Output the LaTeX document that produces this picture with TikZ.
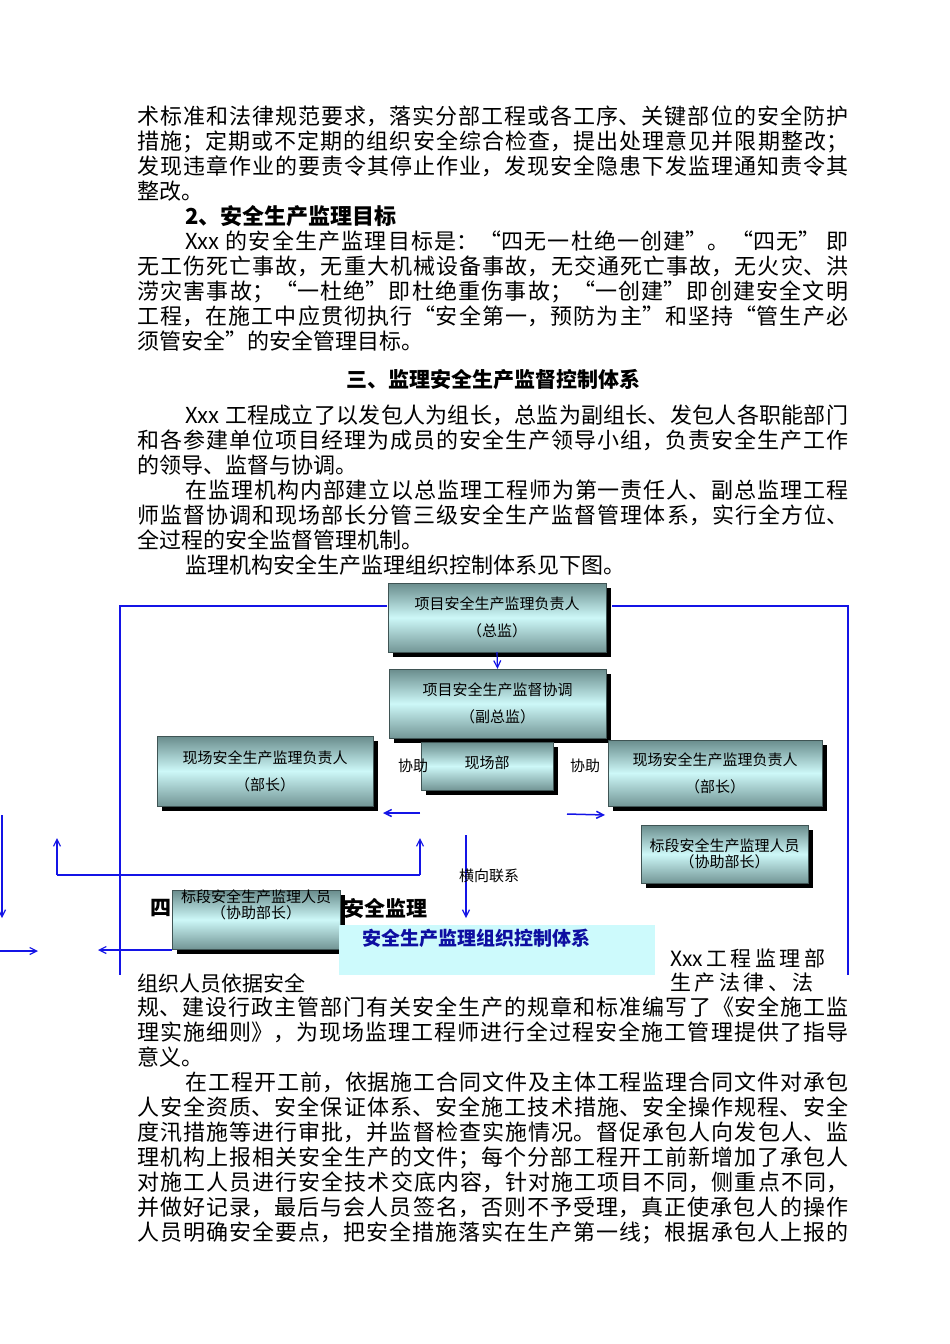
\documentclass[tikz,border=0pt]{standalone}
\usepackage{fontspec}
\setmainfont{Noto Sans CJK SC}
\usetikzlibrary{shadows,arrows.meta}
\XeTeXlinebreaklocale "zh"
\XeTeXlinebreakskip=0pt plus 3pt
\definecolor{lineblue}{RGB}{20,20,230}
\definecolor{boxtop}{RGB}{105,140,140}
\definecolor{boxmid}{RGB}{205,248,248}
\definecolor{boxbot}{RGB}{115,150,150}
\definecolor{capbg}{RGB}{205,250,252}
\tikzset{
  orgbox/.style={shade,top color=boxtop,bottom color=boxbot,middle color=boxmid,
    draw=boxtop!60!black,line width=0.3pt,
    drop shadow={shadow xshift=5pt,shadow yshift=-5pt,fill=black,opacity=1},
    align=center,font=\fontsize{15}{27}\selectfont,inner sep=0pt},
  bl/.style={draw=lineblue,line width=2pt},
  blarr/.style={draw=lineblue,line width=1.5pt,-{Straight Barb[length=7pt,width=7pt]}},
  para/.style={anchor=north west,inner sep=0pt,text width=711pt,align=justify,
    font=\fontsize{22}{25}\selectfont},
  lbl/.style={font=\fontsize{15}{16}\selectfont,inner sep=0pt}
}
\begin{document}
\begin{tikzpicture}[x=1pt,y=-1pt]
\useasboundingbox[fill=white] (0,0) rectangle (950,1344);
\node[para] (pa) at (137,106) {\parindent0pt
术标准和法律规范要求，落实分部工程或各工序、关键部位的安全防护\linebreak
措施；定期或不定期的组织安全综合检查，提出处理意见并限期整改；\linebreak
发现违章作业的要责令其停止作业，发现安全隐患下发监理通知责令其\linebreak
整改。\\
\hspace*{2.2em}\textbf{2、安全生产监理目标}\\
\hspace*{2.2em}Xxx 的安全生产监理目标是：“四无一杜绝一创建”。“四无” 即\linebreak
无工伤死亡事故，无重大机械设备事故，无交通死亡事故，无火灾、洪\linebreak
涝灾害事故；“一杜绝”即杜绝重伤事故；“一创建”即创建安全文明\linebreak
工程，在施工中应贯彻执行“安全第一，预防为主”和坚持“管生产必\linebreak
须管安全”的安全管理目标。\\};
\node[font=\fontsize{21}{25}\selectfont\bfseries] (h3) at (493,380) {三、监理安全生产监督控制体系};
\node[para] (pb) at (137,405) {\parindent0pt
\hspace*{2.2em}Xxx 工程成立了以发包人为组长，总监为副组长、发包人各职能部门\linebreak
和各参建单位项目经理为成员的安全生产领导小组，负责安全生产工作\linebreak
的领导、监督与协调。\\
\hspace*{2.2em}在监理机构内部建立以总监理工程师为第一责任人、副总监理工程\linebreak
师监督协调和现场部长分管三级安全生产监督管理体系，实行全方位、\linebreak
全过程的安全监督管理机制。\\
\hspace*{2.2em}监理机构安全生产监理组织控制体系见下图。\\};
% diagram lines
\draw[bl] (387,606) -- (120,606) -- (120,975);
\draw[bl] (612,606) -- (848,606) -- (848,975);
\draw[bl] (57,875) -- (420,875);
\coordinate (u1) at (57,838); \coordinate (u2) at (420,838);
\draw[blarr,line width=1.2pt] (57,875) -- (u1);
\draw[blarr,line width=1.2pt] (420,875) -- (u2);
\coordinate (d0a) at (2,815); \coordinate (d0b) at (2,918);
\draw[blarr,line width=1.2pt] (d0a) -- (d0b);
\coordinate (hx1) at (466,835); \coordinate (hx2) at (466,918);
\draw[blarr,line width=1.2pt] (hx1) -- (hx2);
\node[lbl,anchor=west] (hx) at (459,876) {横向联系};
% boxes
\node[orgbox,minimum width=218pt,minimum height=69pt] (b1) at (497,617.5) {项目安全生产监理负责人\\（总监）};
\node[orgbox,minimum width=217pt,minimum height=69pt] (b2) at (497.5,703.5) {项目安全生产监督协调\\（副总监）};
\node[orgbox,minimum width=132pt,minimum height=48pt] (b3) at (487,766) {};
\node[lbl] at (487,763) {现场部};
\node[orgbox,minimum width=216pt,minimum height=70pt] (b4) at (265,771) {现场安全生产监理负责人\\（部长）};
\node[orgbox,minimum width=214pt,minimum height=66pt] (b5) at (715,773) {现场安全生产监理负责人\\（部长）};
\node[orgbox,minimum width=167pt,minimum height=58pt,font=\fontsize{15}{16}\selectfont] (b6) at (724.5,854) {标段安全生产监理人员\\（协助部长）};
\draw[blarr,line width=1.2pt] (b1.south) -- (b2.north);
\coordinate (la) at (383,813); \coordinate (lb) at (420,813);
\draw[blarr] (lb) -- (la);
\coordinate (ra) at (567,814); \coordinate (rb) at (605,815);
\draw[blarr] (ra) -- (rb);
\node[lbl] (x1) at (413,766) {协助};
\node[lbl] (x2) at (585,766) {协助};
% bottom area
\node[font=\fontsize{21}{25}\selectfont\bfseries,anchor=west,inner sep=0pt] (si) at (150,908) {四};
\node[font=\fontsize{21}{25}\selectfont\bfseries,anchor=west,inner sep=0pt] (aq) at (343,908) {安全监理};
\node[orgbox,minimum width=168pt,minimum height=58pt,font=\fontsize{15}{16}\selectfont,anchor=north west] (b7) at (172,890) {标段安全生产监理人员\\（协助部长）\\[14pt]};
\coordinate (e1) at (0,951); \coordinate (e2) at (38,951);
\draw[blarr,line width=1.2pt] (e1) -- (e2);
\coordinate (f2) at (98,950);
\draw[blarr,line width=1.2pt] (b7.west|-f2) -- (f2);
\node[fill=capbg,minimum width=316pt,minimum height=50pt,anchor=north west,inner sep=0pt] (cap) at (339,925) {};
\node[text=lineblue!70!black,font=\fontsize{19}{20}\selectfont\bfseries,anchor=west,inner sep=0pt] (capt) at (362,938) {安全生产监理组织控制体系};
\node[font=\fontsize{21}{25}\selectfont,anchor=west,inner sep=0pt] (t1) at (670,958) {Xxx\,工\,程\,监\,理\,部};
\node[font=\fontsize{21}{25}\selectfont,anchor=west,inner sep=0pt] (t2) at (670,983) {生\,产\,法\,律\,、\,法};
\node[font=\fontsize{21}{25}\selectfont,anchor=west,inner sep=0pt] (t3) at (137,983) {组织人员依据安全};
\node[para] (pc) at (137,996) {\parindent0pt
规、建设行政主管部门有关安全生产的规章和标准编写了《安全施工监\linebreak
理实施细则》，为现场监理工程师进行全过程安全施工管理提供了指导\linebreak
意义。\\
\hspace*{2.2em}在工程开工前，依据施工合同文件及主体工程监理合同文件对承包\linebreak
人安全资质、安全保证体系、安全施工技术措施、安全操作规程、安全\linebreak
度汛措施等进行审批，并监督检查实施情况。督促承包人向发包人、监\linebreak
理机构上报相关安全生产的文件；每个分部工程开工前新增加了承包人\linebreak
对施工人员进行安全技术交底内容，针对施工项目不同，侧重点不同，\linebreak
并做好记录，最后与会人员签名，否则不予受理，真正使承包人的操作\linebreak
人员明确安全要点，把安全措施落实在生产第一线；根据承包人上报的\linebreak};
\end{tikzpicture}
\end{document}
